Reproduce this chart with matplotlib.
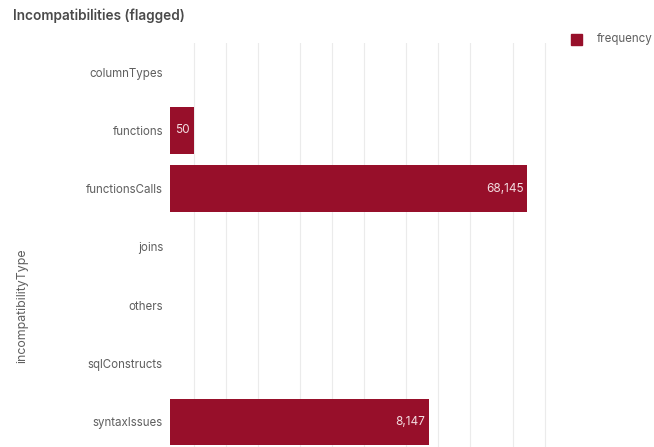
import matplotlib.pyplot as plt
from matplotlib.ticker import FixedLocator, NullLocator

# Data
categories = ["columnTypes", "functions", "functionsCalls", "joins",
              "others", "sqlConstructs", "syntaxIssues"]
frequency = [0, 50, 68145, 0, 0, 0, 8147]
grid_values = [50, 100, 200, 500, 1000, 2000, 5000, 10000, 20000, 50000, 100000]

bar_color = "#970F2A"
text_color = "#5f5f5f"
plt.rcParams["font.family"] = ["Inter", "DejaVu Sans"]

fig = plt.figure(figsize=(6.54, 4.47), dpi=100)
W, H = 654, 447
# axes spans past the bottom of the picture (reference is cropped there)
left, right, top, bottom = 170, 557, 43, 451
ax = fig.add_axes([left / W, 1 - bottom / H, (right - left) / W, (bottom - top) / H])

pos = list(range(len(categories)))
vals = [v if v > 0 else float("nan") for v in frequency]
ax.barh(pos, vals, height=0.8, color=bar_color, zorder=2)

ax.set_xscale("log")
ax.set_xlim(30, 130000)
ax.set_ylim(len(categories) - 0.5, -0.5)
ax.xaxis.set_major_locator(FixedLocator(grid_values))
ax.xaxis.set_minor_locator(NullLocator())
ax.grid(axis="x", color="#ebebeb", linewidth=0.8, zorder=0)
ax.tick_params(axis="x", which="both", length=0, labelbottom=False)
ax.tick_params(axis="y", length=0, pad=5, labelsize=8.3, labelcolor=text_color)
ax.set_yticks(pos)
ax.set_yticklabels(categories)
for s in ax.spines.values():
    s.set_visible(False)

# value labels inside bar ends
for p, v in zip(pos, frequency):
    if v > 0:
        ax.annotate(f"{v:,}", xy=(v, p), xytext=(-2.5, 0), textcoords="offset points",
                    ha="right", va="center", fontsize=8.5, color="#f3dce0", zorder=3)

fig.text(13 / W, 1 - 16 / H, "Incompatibilities (flagged)", fontsize=9.8,
         fontweight="semibold", color="#4a4a4a", ha="left", va="center")
fig.text(22 / W, 1 - 306 / H, "incompatibilityType", rotation=90, fontsize=8.9,
         color=text_color, ha="center", va="center")

# legend
fig.patches.append(plt.Rectangle((571 / W, 1 - 45 / H), 11 / W, 11 / H,
                                 transform=fig.transFigure, color=bar_color, figure=fig))
fig.text(597 / W, 1 - 39 / H, "frequency", fontsize=8.3, color=text_color,
         ha="left", va="center")

fig.savefig("out.png", dpi=100)
